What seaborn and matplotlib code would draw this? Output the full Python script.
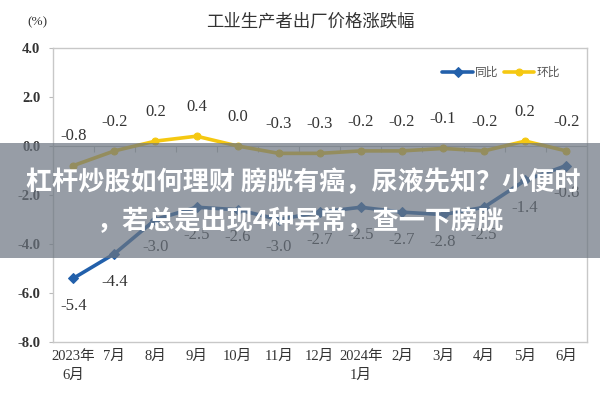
import matplotlib
matplotlib.use("Agg")
import matplotlib.pyplot as plt
import pandas as pd
import seaborn as sns
from matplotlib.patches import Rectangle

months = ["2023年\n6月", "7月", "8月", "9月", "10月", "11月", "12月",
          "2024年\n1月", "2月", "3月", "4月", "5月", "6月"]
yoy = [-5.4, -4.4, -3.0, -2.5, -2.6, -3.0, -2.7, -2.5, -2.7, -2.8, -2.5, -1.4, -0.8]
mom = [-0.8, -0.2, 0.2, 0.4, 0.0, -0.3, -0.3, -0.2, -0.2, -0.1, -0.2, 0.2, -0.2]
yticks = [4.0, 2.0, 0.0, -2.0, -4.0, -6.0, -8.0]

title = "工业生产者出厂价格涨跌幅"
banner1 = "杠杆炒股如何理财 膀胱有癌，尿液先知？小便时"
banner2 = "，若总是出现4种异常，查一下膀胱"

sns.set_style("white")
plt.rcParams["font.family"] = ["Liberation Serif", "Noto Sans CJK SC"]

blue = "#2260ab"
yellow = "#f5c811"
txt = "#333333"

df = pd.DataFrame({"pos": range(len(months)), "同比": yoy, "环比": mom})

fig = plt.figure(figsize=(6, 4), dpi=100)
ax = fig.add_axes([0.088, 0.145, 0.89, 0.735])

sns.lineplot(data=df, x="pos", y="同比", ax=ax, color=blue, lw=2.6,
             marker="D", markersize=5, markeredgecolor=blue, label="同比")
sns.lineplot(data=df, x="pos", y="环比", ax=ax, color=yellow, lw=2.6,
             marker="o", markersize=5, markeredgecolor=yellow, label="环比")

for i, v in enumerate(mom):
    ax.annotate(f"{v:.1f}", (i, v), xytext=(0, 21), textcoords="offset points",
                ha="center", va="center", fontsize=12, color=txt)
for i, v in enumerate(yoy):
    ax.annotate(f"{v:.1f}", (i, v), xytext=(0, -20), textcoords="offset points",
                ha="center", va="center", fontsize=12, color=txt)

ax.set_xlim(-0.5, len(months) - 0.5)
ax.set_ylim(-8, 4)
ax.set_yticks(yticks)
ax.set_yticklabels([f"{t:.1f}" for t in yticks], fontsize=10.5, color=txt,
                   fontweight="bold")
ax.set_xticks(range(len(months)))
ax.set_xticklabels(months, fontsize=10.5, color=txt, linespacing=1.5)
ax.tick_params(axis="x", length=0, pad=6)
ax.tick_params(axis="y", length=3, color="#bbbbbb", direction="out", left=True, pad=6)
ax.set_xlabel("")
ax.set_ylabel("")
for s in ax.spines.values():
    s.set_color("#c8c8c8")
    s.set_linewidth(1)

# category axis crossing at zero, ticks between categories
zero_ax = ax.secondary_xaxis(8 / 12)
zero_ax.set_xticks([i + 0.5 for i in range(len(months) - 1)])
zero_ax.set_xticklabels([])
zero_ax.tick_params(direction="in", length=4, color="#bbbbbb")
zero_ax.spines["bottom"].set_color("#bbbbbb")
zero_ax.spines["top"].set_color("#bbbbbb")

leg = ax.legend(loc="upper right", bbox_to_anchor=(0.97, 0.975), ncol=2, frameon=False,
                handlelength=2.6, columnspacing=0.4, handletextpad=0.2,
                prop={"family": ["Noto Sans CJK SC"], "size": 8.5})
for t in leg.get_texts():
    t.set_color("#555555")

fig.text(0.517, 0.945, title, ha="center", va="center", fontsize=12.5, color=txt,
         family=["Noto Sans CJK SC"])
fig.text(0.062, 0.945, "(%)", ha="center", va="center", fontsize=9.5, color=txt)

# overlay banner
fig.patches.append(Rectangle((0, 0.355), 1, 0.2875, transform=fig.transFigure,
                             facecolor="#6b7480", alpha=0.7, edgecolor="none", zorder=10))
fig.text(0.505, 0.543, banner1, ha="center", va="center", fontsize=18.8, color="white",
         fontweight="bold", family=["Noto Sans CJK SC"], zorder=11)
fig.text(0.5, 0.445, banner2, ha="center", va="center", fontsize=18.8, color="white",
         fontweight="bold", family=["Noto Sans CJK SC"], zorder=11)

fig.savefig("out.png", dpi=100)
